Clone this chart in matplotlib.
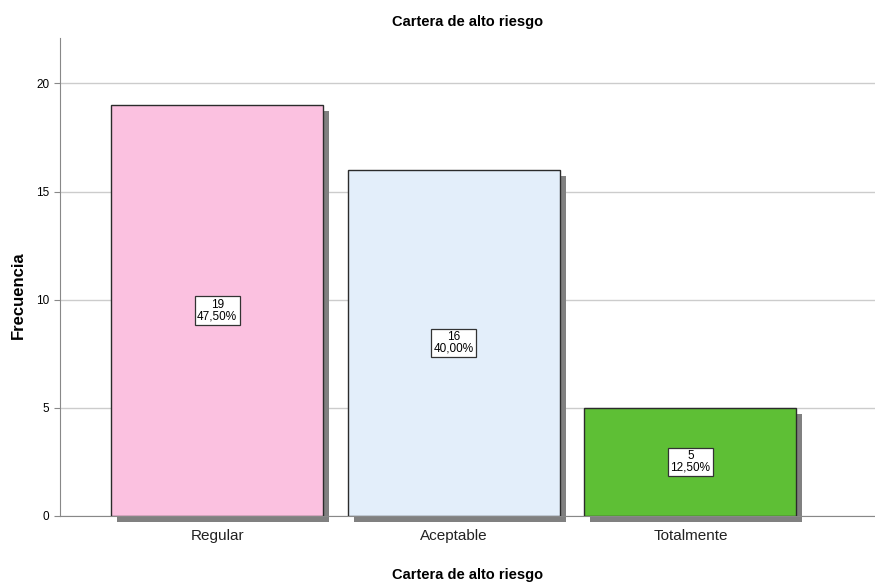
import matplotlib
matplotlib.use("Agg")
import matplotlib.pyplot as plt
from matplotlib.patches import Rectangle

plt.rcParams['font.family'] = ['Liberation Sans', 'DejaVu Sans']

categories = ["Regular", "Aceptable", "Totalmente"]
counts = [19, 16, 5]
percents = ["47,50%", "40,00%", "12,50%"]
colors = ["#FBC1E0", "#E3EEFA", "#5EBF35"]

fig = plt.figure(figsize=(8.75, 5.84), dpi=100)
ax = fig.add_axes([60/875, (584-516)/584, 1 - 60/875, (516-38)/584])

width = 212/236.5
xs = list(range(len(categories)))
dx = 6/236.5
dy = 6/21.6
for x, c in zip(xs, counts):
    ax.add_patch(Rectangle((x - width/2 + dx, -dy), width, c, facecolor="#808080",
                           edgecolor="none", zorder=2, clip_on=False))
ax.bar(xs, counts, width=width, color=colors, edgecolor="#2b2b2b", linewidth=1.0, zorder=3)
for x, c, p in zip(xs, counts, percents):
    ax.text(x, c/2, f"{c}\n{p}", ha="center", va="center", fontsize=8.5, zorder=5,
            linespacing=0.95,
            bbox=dict(boxstyle="square,pad=0.2", facecolor="white", edgecolor="#333333", linewidth=0.9))

ax.set_xlim(-0.664, 2.78)
ax.set_ylim(0, 22.1)
ax.set_yticks([0, 5, 10, 15, 20])
ax.set_xticks(xs)
ax.set_xticklabels(categories, fontsize=11, color="#222222")
for lab in ax.get_xticklabels():
    lab.set_va("baseline")
ax.tick_params(axis="y", labelsize=8.5, length=4, color="#888888")
ax.tick_params(axis="x", length=0, pad=17)
ax.yaxis.grid(True, color="#cccccc", linewidth=1.0, zorder=0)
ax.set_axisbelow(True)
for s in ["top", "right"]:
    ax.spines[s].set_visible(False)
ax.spines["left"].set_color("#888888")
ax.spines["bottom"].set_color("#888888")

fig.text(0.5 + 30/875, 1 - 22/584, "Cartera de alto riesgo", ha="center", va="center",
         fontsize=10.5, fontweight="bold")
fig.text(0.5 + 30/875, 1 - 575/584, "Cartera de alto riesgo", ha="center", va="center",
         fontsize=10.5, fontweight="bold")
fig.text(18/875, 1 - 295/584, "Frecuencia", rotation=90, ha="center", va="center",
         fontsize=12, fontweight="bold")

fig.savefig("out.png", dpi=100)
